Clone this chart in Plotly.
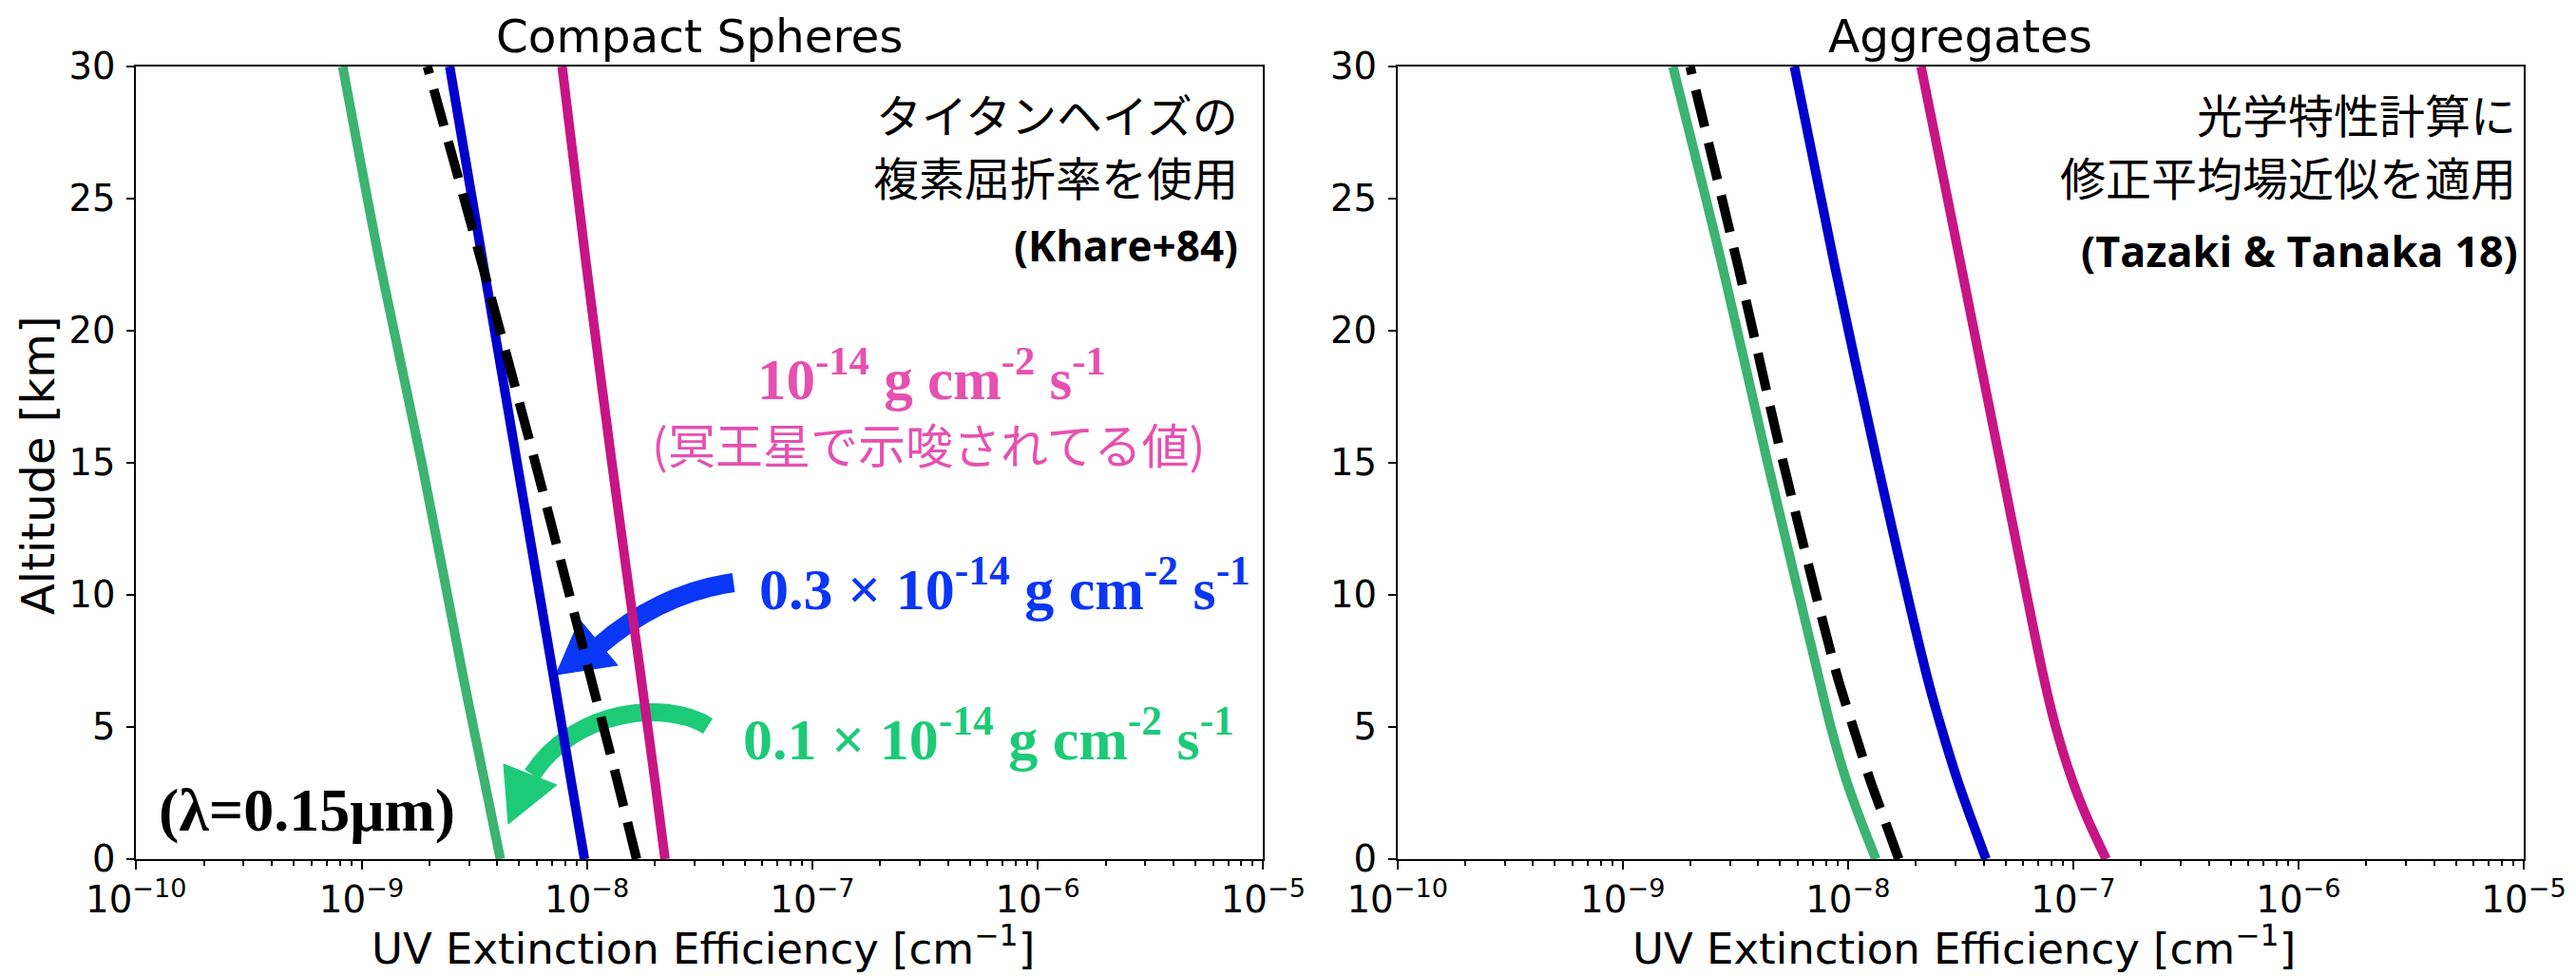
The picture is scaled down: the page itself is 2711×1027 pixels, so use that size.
import plotly.graph_objects as go

# ---------------------------------------------------------------
# UV extinction profiles of haze particles (lambda = 0.15 um)
# ---------------------------------------------------------------
W, H = 2711, 1027

# Compact spheres (Titan-haze refractive index, Khare+84)   [cm^-1]
sph_altitude_km = [0, 3, 7, 15, 22.5, 30]
sph_flux_01 = [4.13e-9, 3.50e-9, 2.81e-9, 1.85e-9, 1.21e-9, 8.25e-10]
sph_flux_03 = [9.75e-9, 8.49e-9, 7.08e-9, 4.90e-9, 3.47e-9, 2.46e-9]
sph_flux_10 = [2.22e-8, 2.00e-8, 1.73e-8, 1.29e-8, 9.93e-9, 7.76e-9]
sph_reference = [1.66e-8, 1.36e-8, 1.03e-8, 5.90e-9, 3.43e-9, 1.96e-9]

# Aggregates (modified mean-field approximation, Tazaki & Tanaka 18)   [cm^-1]
agg_altitude_km = [0, 1.5, 3, 5, 7, 15, 22.5, 30]
agg_flux_01 = [1.33e-8, 1.135e-8, 9.82e-9, 8.39e-9, 7.36e-9, 4.40e-9, 2.76e-9, 1.67e-9]
agg_flux_03 = [4.10e-8, 3.53e-8, 3.06e-8, 2.59e-8, 2.23e-8, 1.35e-8, 8.71e-9, 5.78e-9]
agg_flux_10 = [1.40e-7, 1.16e-7, 9.89e-8, 8.36e-8, 7.34e-8, 4.75e-8, 3.17e-8, 2.11e-8]
agg_reference = [1.68e-8, 1.452e-8, 1.253e-8, 1.054e-8, 8.91e-9, 5.16e-9, 3.24e-9, 1.99e-9]

panel_titles = ["Compact Spheres", "Aggregates"]
x_title = "UV Extinction Efficiency [cm<sup>\u22121</sup>]"
y_title = "Altitude [km]"
x_range_log = [-10, -5]
y_range = [0, 30]
y_ticks = [0, 5, 10, 15, 20, 25, 30]

C_GREEN = "#3CB371"
C_BLUE = "#0000CD"
C_MAGENTA = "#C71585"
C_BLACK = "#000000"

T_PINK = "#E650B0"
T_BLUE = "#0A36F5"
T_GREEN = "#1DCA78"

LINE_W = 10
DASH = "40px,17px"

# plot areas in pixels: (left, right), (top, bottom)
PANEL_X = [(143.3, 1329.3), (1470.7, 2656.0)]
PANEL_Y = (70.0, 904.0)


def px(x, y):
    """pixel position -> paper coordinates"""
    return x / W, 1 - y / H


def path_px(cmds):
    out = []
    for c in cmds:
        if isinstance(c, str):
            out.append(c)
        else:
            xx, yy = px(*c)
            out.append(f"{xx:.6f},{yy:.6f}")
    return " ".join(out)


fig = go.Figure()

panels = [
    (sph_altitude_km, sph_flux_01, sph_flux_03, sph_flux_10, sph_reference),
    (agg_altitude_km, agg_flux_01, agg_flux_03, agg_flux_10, agg_reference),
]

for i, (alt, g, b, m, k) in enumerate(panels):
    xa = "x" if i == 0 else "x2"
    ya = "y" if i == 0 else "y2"
    for vals, col, dash in [(g, C_GREEN, "solid"), (b, C_BLUE, "solid"),
                            (m, C_MAGENTA, "solid"), (k, C_BLACK, DASH)]:
        fig.add_trace(go.Scatter(
            x=vals, y=alt, mode="lines",
            line=dict(color=col, width=LINE_W, dash=dash, shape="spline", smoothing=0.8),
            xaxis=xa, yaxis=ya, showlegend=False, hoverinfo="skip",
        ))

tick_font = dict(family="DejaVu Sans", size=38.5, color="black")
xtick_font = dict(family="DejaVu Sans", size=31, color="black")

def xaxis_cfg(i):
    l, r = PANEL_X[i]
    return dict(
        type="log", range=x_range_log, dtick=1, exponentformat="power",
        domain=[l / W, r / W], anchor="y" if i == 0 else "y2",
        showline=True, linecolor="black", linewidth=2, mirror=True,
        ticks="outside", ticklen=9, tickwidth=2, tickcolor="black",
        tickfont=xtick_font, showgrid=False, zeroline=False, automargin=False,
        minor=dict(ticks="outside", ticklen=5, tickwidth=1.5, tickcolor="black",
                   dtick="D1", showgrid=False),
    )

def yaxis_cfg(i):
    t, b = PANEL_Y
    return dict(
        range=y_range, tickvals=y_ticks, domain=[1 - b / H, 1 - t / H],
        anchor="x" if i == 0 else "x2",
        showline=True, linecolor="black", linewidth=2, mirror=True,
        ticks="outside", ticklen=8, tickwidth=2, tickcolor="black",
        tickfont=tick_font, showgrid=False, zeroline=False, automargin=False,
        ticklabelstandoff=4,
    )

annotations = []

def note(text, x, y, size, color="black", family="DejaVu Sans", xanchor="center",
         yanchor="middle", angle=0):
    xx, yy = px(x, y)
    annotations.append(dict(
        text=text, x=xx, y=yy, xref="paper", yref="paper", showarrow=False,
        xanchor=xanchor, yanchor=yanchor, textangle=angle,
        font=dict(family=family, size=size, color=color),
    ))

# panel titles and axis titles
for i, title in enumerate(panel_titles):
    cx = sum(PANEL_X[i]) / 2
    note(title, cx, 38, 48.5)
    note(x_title, cx + 4, 995, 45)
note(y_title, 40, 490, 48, angle=-90)

# left panel notes
JP = "Noto Sans CJK JP"
SERIF = "Liberation Serif"
note("タイタンヘイズの", 1305, 119, 48, family=JP, xanchor="right")
note("複素屈折率を使用", 1305, 185, 48, family=JP, xanchor="right")
note("<b>(Khare+84)</b>", 1305, 258, 44, family="Open Sans", xanchor="right")
note("<b>10<sup>-14</sup> g cm<sup>-2</sup> s<sup>-1</sup></b>", 980, 395, 61,
     color=T_PINK, family=SERIF)
note("(冥王星で示唆されてる値)", 977, 466, 50, color=T_PINK, family=JP)
note("<b>0.3 × 10<sup>-14</sup> g cm<sup>-2</sup> s<sup>-1</sup></b>", 1057, 615, 62,
     color=T_BLUE, family=SERIF)
note("<b>0.1 × 10<sup>-14</sup> g cm<sup>-2</sup> s<sup>-1</sup></b>", 1040, 773, 62,
     color=T_GREEN, family=SERIF)
note("<b>(λ=0.15μm)</b>", 323, 852, 64, family=SERIF)

# right panel notes
note("光学特性計算に", 2650, 119, 48, family=JP, xanchor="right")
note("修正平均場近似を適用", 2650, 185, 48, family=JP, xanchor="right")
note("<b>(Tazaki & Tanaka 18)</b>", 2652, 264, 45, family="Open Sans", xanchor="right")

# curved pointer arrows
shapes = []

def stroke(cmds, color, width):
    shapes.append(dict(type="path", path=path_px(cmds), xref="paper", yref="paper",
                       line=dict(color=color, width=width), fillcolor="rgba(0,0,0,0)",
                       layer="below"))

def head(pts, color):
    cmds = ["M", pts[0], "L", pts[1], "L", pts[2], "Z"]
    shapes.append(dict(type="path", path=path_px(cmds), xref="paper", yref="paper",
                       line=dict(color=color, width=1), fillcolor=color, layer="below"))

stroke(["M", (772, 613), "Q", (695, 624), (630, 680)], T_BLUE, 20)
head([(585, 710), (610, 652), (650, 700)], T_BLUE)

stroke(["M", (745, 764), "C", (700, 736), (605, 746), (560, 815)], T_GREEN, 19)
head([(535, 867), (530, 804), (586, 826)], T_GREEN)

fig.update_layout(
    width=W, height=H,
    margin=dict(l=0, r=0, t=0, b=0, autoexpand=False),
    paper_bgcolor="white", plot_bgcolor="rgba(0,0,0,0)",
    xaxis=xaxis_cfg(0), xaxis2=xaxis_cfg(1),
    yaxis=yaxis_cfg(0), yaxis2=yaxis_cfg(1),
    annotations=annotations, shapes=shapes,
    showlegend=False,
)

fig.write_html("out.html")
